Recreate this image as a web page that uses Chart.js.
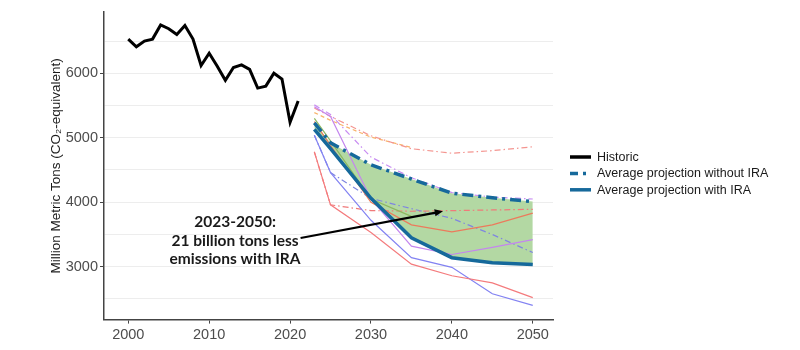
<!DOCTYPE html>
<html>
<head>
<meta charset="utf-8">
<script src="https://cdn.jsdelivr.net/npm/chart.js@4.4.1/dist/chart.umd.min.js"></script>
<style>
  html, body { margin: 0; padding: 0; background: #fff; }
  #wrap { width: 800px; height: 350px; position: relative; }
</style>
</head>
<body>
<div id="wrap"><canvas id="chart"></canvas></div>
<script>
// historic emissions
var HIST_YEARS = [2000, 2001, 2002, 2003, 2004, 2005, 2006, 2007, 2008, 2009, 2010,
                  2011, 2012, 2013, 2014, 2015, 2016, 2017, 2018, 2019, 2020, 2021];
var HIST_VALUES = [6530, 6410, 6500, 6530, 6750, 6690, 6600, 6740, 6530, 6120, 6310,
                   6110, 5890, 6090, 6130, 6060, 5770, 5800, 6000, 5910, 5240, 5570];

// projections
var PROJ_YEARS = [2023, 2025, 2030, 2035, 2040, 2045, 2050];
var AVG_WITHOUT_IRA = [5230, 4920, 4580, 4360, 4140, 4070, 4010];
var AVG_WITH_IRA = [5130, 4830, 4060, 3450, 3140, 3060, 3035];

// individual model runs (thin lines)
var RED_LOW = [4780, 3960, 3530, 3040, 2860, 2750, 2520];
var BLUE_LOW = [5040, 4460, 3720, 3140, 2990, 2580, 2400];
var RED_MID = [5250, 4880, 4000, 3650, 3540, 3650, 3830];
var PURPLE_MID = [5480, 5330, 4050, 3320, 3190, 3300, 3420];
var OLIVE_MID = [5300, 4950, 4050, 3780];
var RED_DASHDOT_HIGH = [5460, 5330, 5030, 4830, 4760, 4800, 4860];
var ORANGE_DASHED = [5390, 5270, 5010, 4850];
var PURPLE_DASHDOT = [5510, 5360, 4700, 4380, 4150, 4080, 4050];
var RED_DASHDOT_LOW = [4780, 3960, 3870, 3860, 3870, 3880, 3890];
var BLUE_DASHDOT = [5040, 4460, 4060, 3900, 3750, 3500, 3220];

var X_TICKS = [2000, 2010, 2020, 2030, 2040, 2050];
var Y_TICKS = [2500, 3000, 3500, 4000, 4500, 5000, 5500, 6000, 6500];

var LEGEND_LABELS = ['Historic', 'Average projection without IRA', 'Average projection with IRA'];
var NOTE_LINES = ['2023-2050:', '21 billion tons less', 'emissions with IRA'];
var NOTE_X = 2013.2;
var NOTE_Y = [3690, 3400, 3125];
var ARROW_FROM = [2021.3, 3445];
var ARROW_TO = [2038.9, 3860];

function pts(xs, ys) {
  var out = [];
  for (var i = 0; i < ys.length; i++) out.push({x: xs[i], y: ys[i]});
  return out;
}

var IRA_BLUE = '#16699b';

function thin(data, color, dash) {
  return {
    data: pts(PROJ_YEARS, data),
    borderColor: color,
    borderWidth: 1.2,
    borderDash: dash || [],
    pointRadius: 0,
    fill: false
  };
}

var extras = {
  id: 'extras',
  afterDraw: function(chart) {
    var ctx = chart.ctx, xs = chart.scales.x, ys = chart.scales.y;
    ctx.save();

    // annotation text
    ctx.font = 'bold 15.5px Lato, "Liberation Sans", sans-serif';
    ctx.fillStyle = '#1a1a1a';
    ctx.textAlign = 'center';
    ctx.textBaseline = 'middle';
    for (var i = 0; i < NOTE_LINES.length; i++) {
      ctx.fillText(NOTE_LINES[i], xs.getPixelForValue(NOTE_X), ys.getPixelForValue(NOTE_Y[i]));
    }

    // arrow
    var x0 = xs.getPixelForValue(ARROW_FROM[0]), y0 = ys.getPixelForValue(ARROW_FROM[1]);
    var x1 = xs.getPixelForValue(ARROW_TO[0]), y1 = ys.getPixelForValue(ARROW_TO[1]);
    var ang = Math.atan2(y1 - y0, x1 - x0);
    var head = 9;
    ctx.strokeStyle = '#000';
    ctx.lineWidth = 2.2;
    ctx.beginPath();
    ctx.moveTo(x0, y0);
    ctx.lineTo(x1 - Math.cos(ang) * head * 0.8, y1 - Math.sin(ang) * head * 0.8);
    ctx.stroke();
    ctx.fillStyle = '#000';
    ctx.beginPath();
    ctx.moveTo(x1, y1);
    ctx.lineTo(x1 - head * Math.cos(ang - 0.4), y1 - head * Math.sin(ang - 0.4));
    ctx.lineTo(x1 - head * Math.cos(ang + 0.4), y1 - head * Math.sin(ang + 0.4));
    ctx.closePath();
    ctx.fill();

    // legend
    var lx = 570, ly = 157, step = 16.4;
    ctx.font = '12.5px "Liberation Sans", Arial, sans-serif';
    ctx.textAlign = 'left';
    for (var k = 0; k < LEGEND_LABELS.length; k++) {
      var ds = chart.data.datasets[k];
      var y = ly + k * step;
      ctx.strokeStyle = ds.borderColor;
      ctx.lineWidth = 3.5;
      ctx.setLineDash(k === 1 ? [8, 5, 3, 5] : []);
      ctx.beginPath();
      ctx.moveTo(lx, y);
      ctx.lineTo(lx + 21, y);
      ctx.stroke();
      ctx.setLineDash([]);
      ctx.fillStyle = '#1a1a1a';
      ctx.fillText(LEGEND_LABELS[k], lx + 27, y + 0.5);
    }
    ctx.restore();
  }
};

var datasets = [
  {
    label: LEGEND_LABELS[0],
    data: pts(HIST_YEARS, HIST_VALUES),
    borderColor: '#000000',
    borderWidth: 3,
    pointRadius: 0,
    fill: false
  },
  {
    label: LEGEND_LABELS[1],
    data: pts(PROJ_YEARS, AVG_WITHOUT_IRA),
    borderColor: IRA_BLUE,
    borderWidth: 3.5,
    borderDash: [11, 5, 3, 5],
    backgroundColor: '#b3d8a3',
    pointRadius: 0,
    fill: {target: 2}
  },
  {
    label: LEGEND_LABELS[2],
    data: pts(PROJ_YEARS, AVG_WITH_IRA),
    borderColor: IRA_BLUE,
    borderWidth: 3.5,
    pointRadius: 0,
    fill: false
  },
  thin(RED_LOW, '#f47b7d'),
  thin(BLUE_LOW, '#8383f2'),
  thin(RED_MID, '#ec7a5c'),
  thin(PURPLE_MID, '#c486ee'),
  thin(OLIVE_MID, '#8db85f'),
  thin(RED_DASHDOT_HIGH, '#f49590', [6, 3, 1.5, 3]),
  thin(ORANGE_DASHED, '#f8b36a', [4, 3]),
  thin(PURPLE_DASHDOT, '#c88cf2', [6, 3, 1.5, 3]),
  thin(RED_DASHDOT_LOW, '#f07a7a', [6, 3, 1.5, 3]),
  thin(BLUE_DASHDOT, '#7f86e0', [6, 3, 1.5, 3])
];

new Chart(document.getElementById('chart'), {
  type: 'line',
  data: {datasets: datasets},
  options: {
    responsive: true,
    maintainAspectRatio: false,
    animation: false,
    layout: {padding: {left: 40, top: 12, right: 247, bottom: 3}},
    plugins: {
      legend: {display: false},
      tooltip: {enabled: false},
      filler: {drawTime: 'beforeDatasetsDraw'}
    },
    scales: {
      x: {
        type: 'linear',
        min: 1997,
        max: 2052.5,
        afterBuildTicks: function(s) { s.ticks = X_TICKS.map(function(v) { return {value: v}; }); },
        ticks: {
          callback: function(v) { return String(v); },
          color: '#4d4d4d',
          font: {family: '"Liberation Sans", Arial, sans-serif', size: 14.5},
          padding: 3,
          maxRotation: 0
        },
        grid: {drawOnChartArea: false, tickLength: 4, color: '#444'},
        border: {color: '#444', width: 1.5}
      },
      y: {
        min: 2180,
        max: 6950,
        afterBuildTicks: function(s) { s.ticks = Y_TICKS.map(function(v) { return {value: v}; }); },
        afterFit: function(s) { s.width = 64; },
        ticks: {
          callback: function(v) { return v % 1000 === 0 ? String(v) : ''; },
          color: '#4d4d4d',
          font: {family: '"Liberation Sans", Arial, sans-serif', size: 14.5},
          padding: 2
        },
        grid: {
          color: '#ededed',
          lineWidth: 1,
          tickLength: 4,
          tickColor: function(c) { return c.tick && c.tick.value % 1000 === 0 ? '#444' : 'rgba(0,0,0,0)'; }
        },
        border: {color: '#444', width: 1.5},
        title: {
          display: true,
          text: 'Million Metric Tons (CO\u2082-equivalent)',
          color: '#1a1a1a',
          font: {family: '"Liberation Sans", Arial, sans-serif', size: 13.5},
          padding: {top: 8, bottom: 4}
        }
      }
    }
  },
  plugins: [extras]
});
</script>
</body>
</html>
